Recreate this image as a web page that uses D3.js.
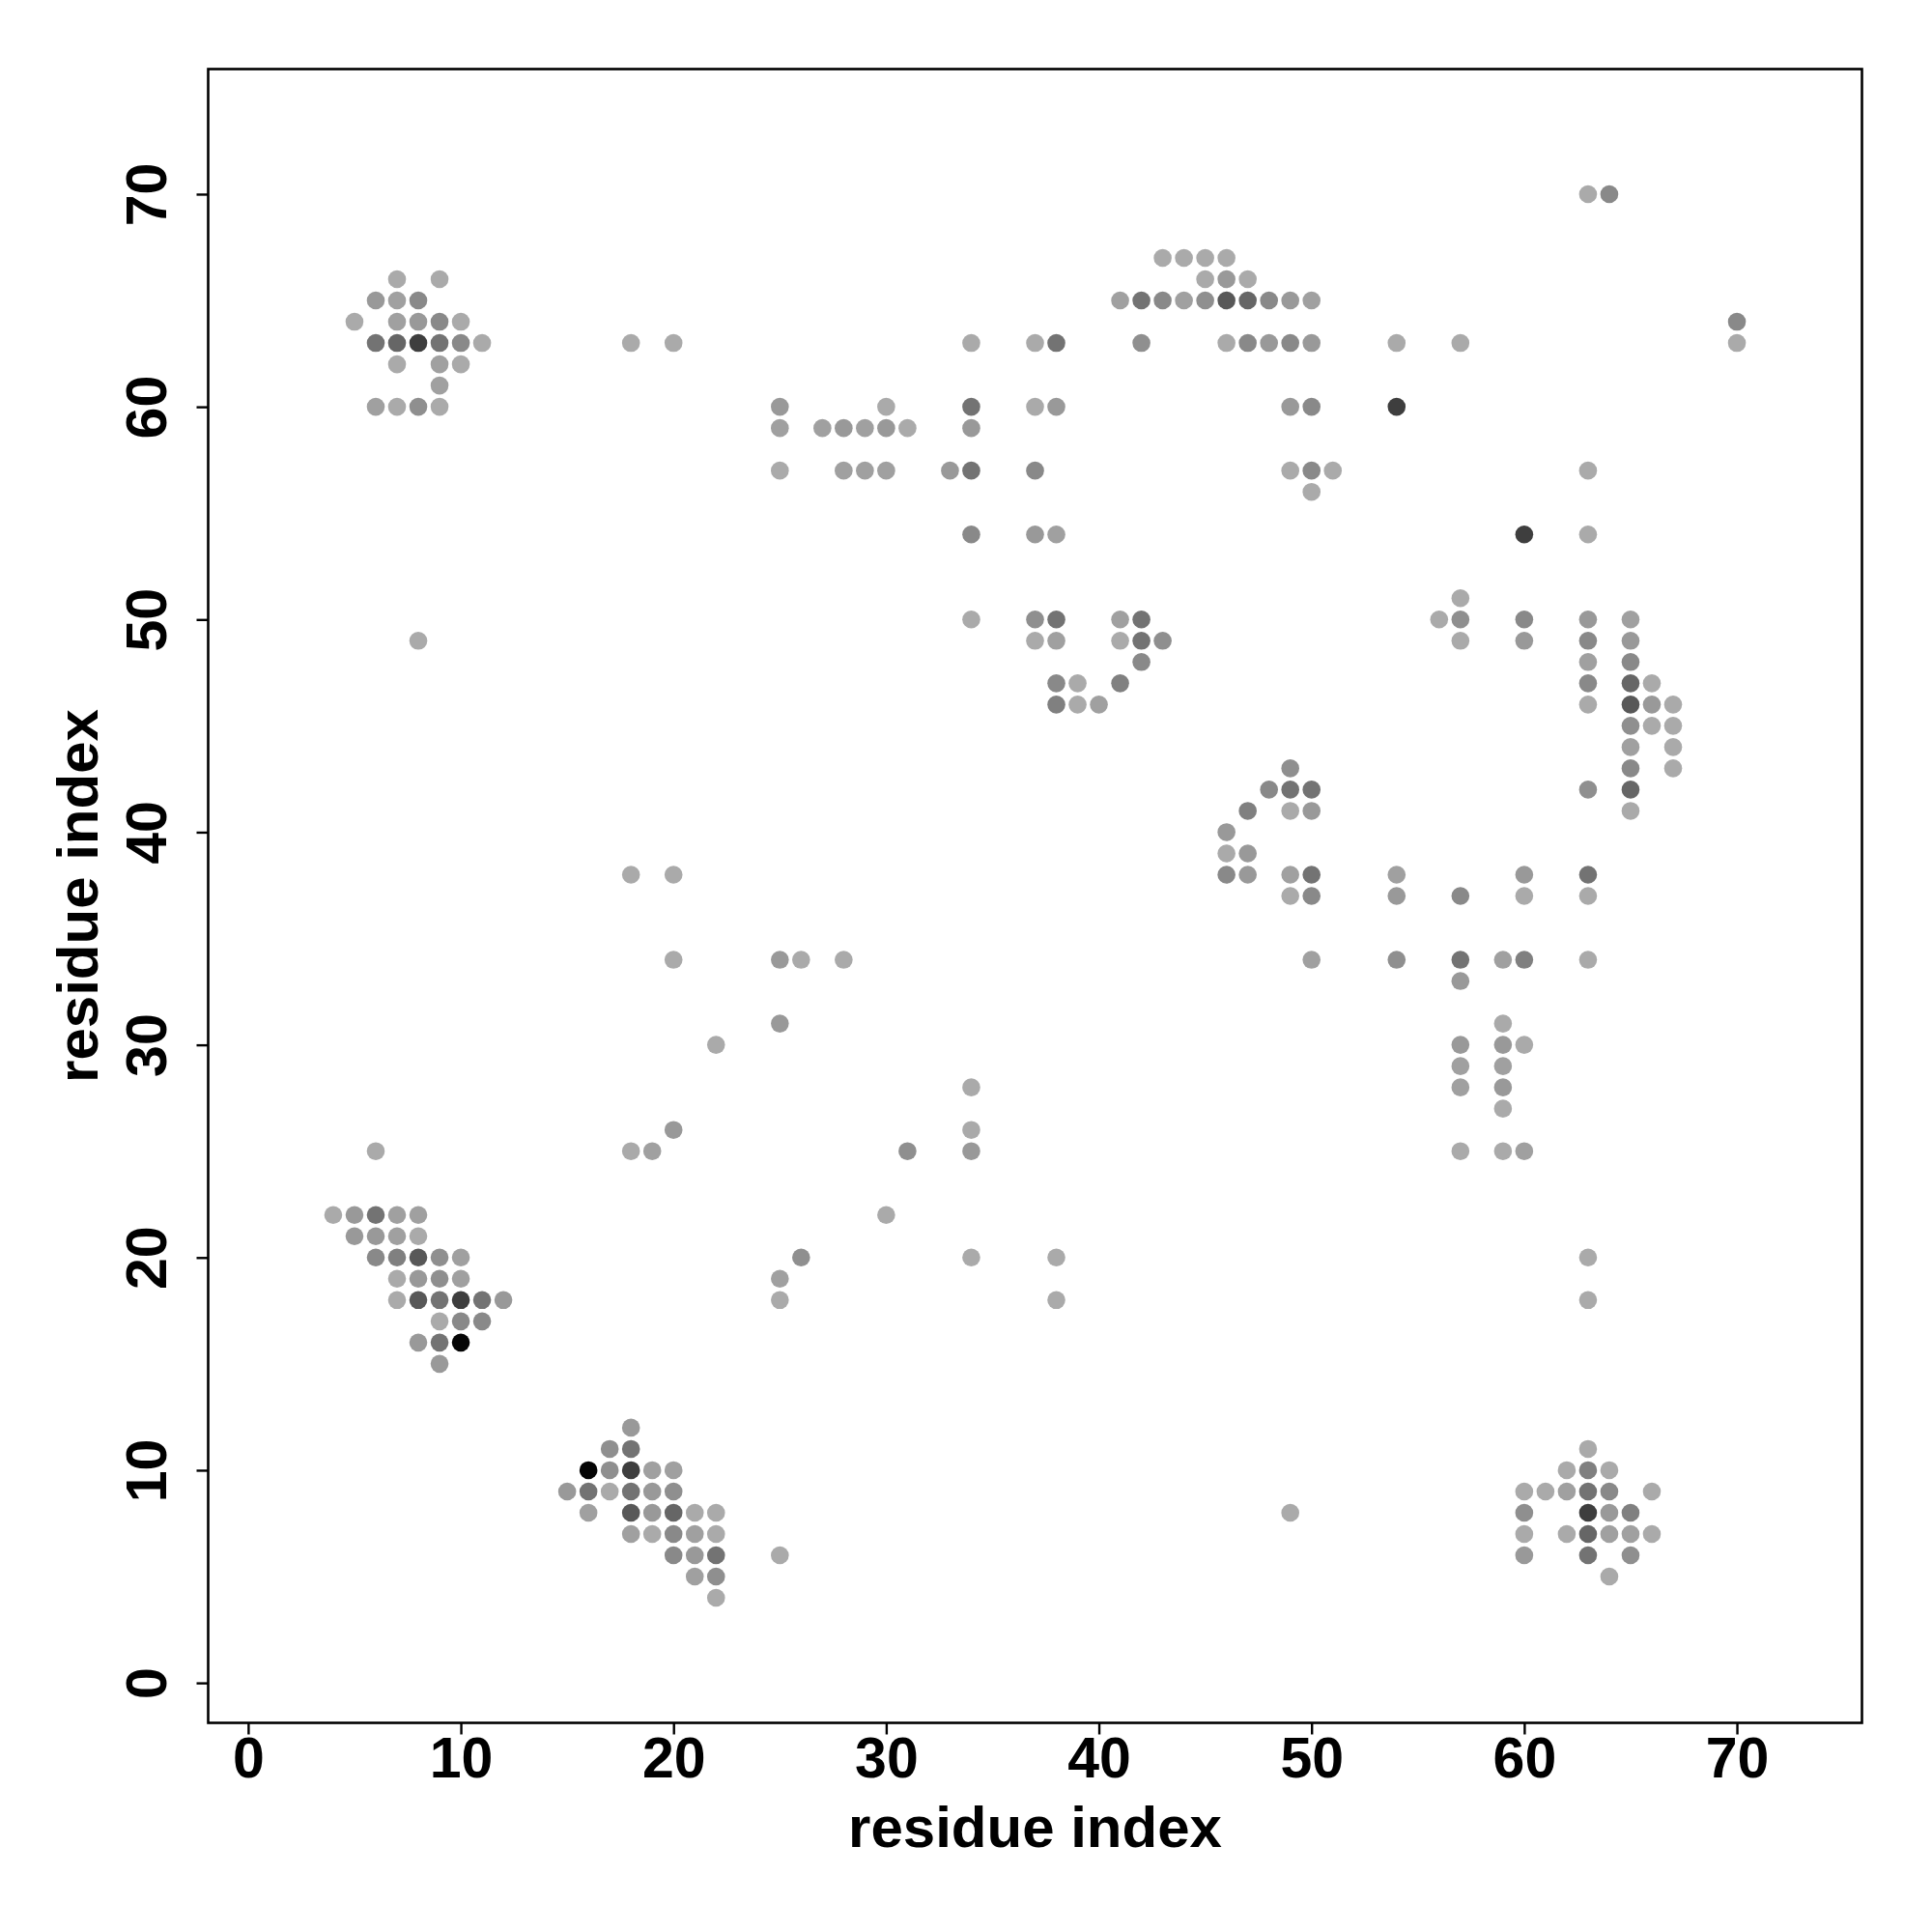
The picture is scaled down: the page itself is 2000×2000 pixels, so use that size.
<!DOCTYPE html>
<html>
<head>
<meta charset="utf-8">
<script src="https://cdn.jsdelivr.net/npm/d3@7"></script>
<style>
  html, body { margin: 0; padding: 0; background: #ffffff; }
  svg { display: block; }
  text { font-family: "Liberation Sans", Arial, Helvetica, sans-serif; font-weight: bold; fill: #000; }
</style>
</head>
<body>
<svg id="chart" width="2000" height="2000"></svg>
<script>
// ---- data: [residue i, residue j, contact strength level] ----
const contacts = [
  // upper-left cluster
  [7,66,1],[9,66,1],
  [6,65,3],[7,65,2],[8,65,5],
  [5,64,1],[7,64,2],[8,64,3],[9,64,5],[10,64,1],
  [6,63,7],[7,63,8],[8,63,10],[9,63,7],[10,63,5],[11,63,1],
  [7,62,1],[9,62,2],[10,62,1],
  [9,61,2],
  [6,60,2],[7,60,1],[8,60,4],[9,60,1],
  [8,49,1],
  // upper middle
  [18,63,1],[20,63,1],[34,63,1],[37,63,1],[38,63,7],
  [25,60,3],[30,60,1],[34,60,7],[37,60,1],[38,60,3],
  [25,59,2],[27,59,2],[28,59,3],[29,59,2],[30,59,3],[31,59,1],[34,59,3],
  [25,57,1],[28,57,2],[29,57,2],[30,57,2],[33,57,3],[34,57,7],[37,57,5],
  [34,54,5],[37,54,3],[38,54,2],
  // upper right
  [43,67,1],[44,67,1],[45,67,1],[46,67,1],
  [45,66,1],[46,66,3],[47,66,1],
  [41,65,2],[42,65,7],[43,65,5],[44,65,2],[45,65,4],[46,65,9],[47,65,8],[48,65,5],[49,65,3],[50,65,2],
  [42,63,4],[46,63,1],[47,63,5],[48,63,3],[49,63,5],[50,63,3],[54,63,1],[57,63,1],
  [49,60,3],[50,60,5],[54,60,10],
  [49,57,1],[50,57,5],[51,57,1],
  [50,56,1],
  [63,70,1],[64,70,5],
  [70,64,5],[70,63,1],
  [63,57,1],
  [60,54,10],[63,54,1],
  // middle
  [34,50,1],[37,50,4],[38,50,7],[41,50,2],[42,50,7],
  [37,49,1],[38,49,2],[41,49,1],[42,49,7],[43,49,4],
  [42,48,5],
  [38,47,5],[39,47,1],[41,47,6],
  [38,46,6],[39,46,1],[40,46,2],
  // right middle
  [57,51,1],
  [56,50,1],[57,50,4],[60,50,5],[63,50,3],[65,50,2],
  [57,49,1],[60,49,3],[63,49,5],[65,49,3],
  [63,48,2],[65,48,5],
  [63,47,5],[65,47,8],[66,47,1],
  [63,46,1],[65,46,9],[66,46,3],[67,46,1],
  [65,45,4],[66,45,1],[67,45,1],
  [65,44,2],[67,44,1],
  [65,43,5],[67,43,1],
  [63,42,4],[65,42,8],
  [65,41,1],
  // centre right
  [49,43,4],
  [48,42,5],[49,42,7],[50,42,7],
  [47,41,6],[49,41,1],[50,41,3],
  [46,40,3],
  [46,39,1],[47,39,3],
  [46,38,5],[47,38,3],[49,38,2],[50,38,7],[54,38,2],[60,38,3],[63,38,7],
  [49,37,1],[50,37,5],[54,37,3],[57,37,5],[60,37,1],[63,37,1],
  [50,34,2],[54,34,4],[57,34,7],[59,34,2],[60,34,6],[63,34,1],
  [57,33,3],
  [59,31,1],
  [57,30,3],[59,30,3],[60,30,1],
  [57,29,2],[59,29,2],
  [57,28,2],[59,28,3],
  [59,27,1],
  [57,25,1],[59,25,1],[60,25,2],
  // scattered
  [18,38,1],[20,38,1],
  [20,34,1],[25,34,3],[26,34,1],[28,34,1],
  [25,31,3],
  [22,30,1],
  [34,28,1],
  [20,26,3],[34,26,1],
  [18,25,1],[19,25,2],[31,25,4],[34,25,3],
  [30,22,1],
  [26,20,4],[34,20,1],[38,20,1],
  [25,19,2],[25,18,1],[38,18,1],
  [63,20,1],[63,18,1],
  [25,6,1],
  [49,8,1],
  // lower-left cluster
  [6,25,1],
  [4,22,1],[5,22,3],[6,22,7],[7,22,2],[8,22,2],
  [5,21,3],[6,21,3],[7,21,2],[8,21,1],
  [6,20,5],[7,20,6],[8,20,9],[9,20,4],[10,20,2],
  [7,19,1],[8,19,3],[9,19,4],[10,19,2],
  [7,18,1],[8,18,9],[9,18,7],[10,18,10],[11,18,7],[12,18,3],
  [9,17,1],[10,17,5],[11,17,5],
  [8,16,3],[9,16,7],[10,16,11],
  [9,15,3],
  // lower cluster
  [18,12,3],
  [17,11,4],[18,11,7],
  [16,10,11],[17,10,4],[18,10,10],[19,10,2],[20,10,2],
  [15,9,3],[16,9,7],[17,9,1],[18,9,7],[19,9,3],[20,9,4],
  [16,8,2],[18,8,9],[19,8,3],[20,8,8],[21,8,1],[22,8,1],
  [18,7,2],[19,7,1],[20,7,5],[21,7,2],[22,7,1],
  [20,6,5],[21,6,3],[22,6,7],
  [21,5,2],[22,5,4],
  [22,4,1],
  // lower-right cluster
  [63,11,1],
  [62,10,1],[63,10,6],[64,10,1],
  [60,9,1],[61,9,1],[62,9,2],[63,9,7],[64,9,5],[66,9,1],
  [60,8,4],[63,8,10],[64,8,3],[65,8,6],
  [60,7,1],[62,7,1],[63,7,8],[64,7,2],[65,7,2],[66,7,1],
  [60,6,3],[63,6,7],[65,6,4],
  [64,5,1]
];
const xTicks = [0, 10, 20, 30, 40, 50, 60, 70];
const yTicks = [0, 10, 20, 30, 40, 50, 60, 70];
const xTitle = "residue index";
const yTitle = "residue index";
const strengthLevels = [1, 2, 3, 4, 5, 6, 7, 8, 9, 10, 11];

// ---- layout ----
const L = 215.5, R = 1927.5, T = 71.5, B = 1783.5;
const dom = [-1.88, 75.88];
const x = d3.scaleLinear().domain(dom).range([L, R]);
const y = d3.scaleLinear().domain(dom).range([B, T]);
const grey = d3.scaleLinear().domain(strengthLevels)
  .range([170, 160, 153, 143, 137, 128, 115, 102, 88, 62, 5]);
const col = w => { const g = Math.round(grey(w)); return `rgb(${g},${g},${g})`; };

const svg = d3.select("#chart");
svg.append("rect").attr("width", 2000).attr("height", 2000).attr("fill", "#fff");

// points
svg.append("g").selectAll("circle").data(contacts).join("circle")
  .attr("cx", d => x(d[0]))
  .attr("cy", d => y(d[1]))
  .attr("r", 9.3)
  .attr("fill", d => col(d[2]));

// frame
svg.append("rect")
  .attr("x", L).attr("y", T).attr("width", R - L).attr("height", B - T)
  .attr("fill", "none").attr("stroke", "#000").attr("stroke-width", 2.6);

// x axis
const gx = svg.append("g").attr("transform", `translate(0,${B})`)
  .call(d3.axisBottom(x).tickValues(xTicks).tickSize(12).tickFormat(d3.format("d")));
gx.select(".domain").remove();
gx.selectAll(".tick line").attr("stroke", "#000").attr("stroke-width", 2.4);
gx.selectAll(".tick text")
  .attr("y", 56).attr("dy", null)
  .attr("font-size", 59).attr("font-family", "Liberation Sans, Arial, sans-serif")
  .attr("font-weight", "bold").attr("fill", "#000");

// y axis
const gy = svg.append("g").attr("transform", `translate(${L},0)`)
  .call(d3.axisLeft(y).tickValues(yTicks).tickSize(12).tickFormat(d3.format("d")));
gy.select(".domain").remove();
gy.selectAll(".tick line").attr("stroke", "#000").attr("stroke-width", 2.4);
gy.selectAll(".tick text")
  .attr("x", null).attr("dy", null).attr("y", null)
  .attr("text-anchor", "middle")
  .attr("transform", "translate(-43.5,0) rotate(-90)")
  .attr("font-size", 59).attr("font-family", "Liberation Sans, Arial, sans-serif")
  .attr("font-weight", "bold").attr("fill", "#000");

// titles
svg.append("text")
  .attr("x", (L + R) / 2).attr("y", 1912)
  .attr("text-anchor", "middle").attr("font-size", 60)
  .text(xTitle);
svg.append("text")
  .attr("transform", `translate(101,${(T + B) / 2}) rotate(-90)`)
  .attr("text-anchor", "middle").attr("font-size", 60)
  .text(yTitle);
</script>
</body>
</html>
